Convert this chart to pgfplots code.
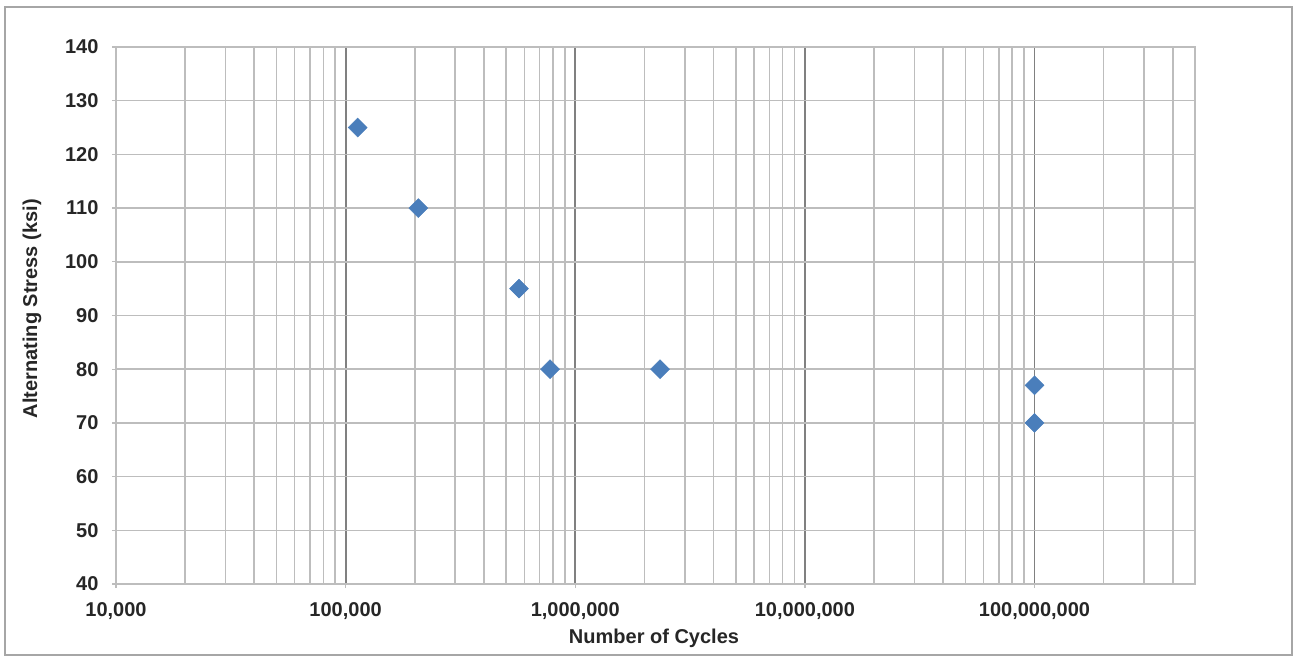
\documentclass[border=0pt]{standalone}
\usepackage{pgfplots}
\pgfplotsset{compat=1.18}
\usepackage{fontspec}
\setmainfont{Liberation Sans}
\definecolor{gridgray}{HTML}{BDBDBD}
\definecolor{majgray}{HTML}{808080}
\definecolor{frame}{HTML}{A6A6A6}
\definecolor{mk}{HTML}{4A7EBB}
\begin{document}
\begin{tikzpicture}[x=1pt,y=1pt]
\useasboundingbox (0,0) rectangle (972.75,493.5);
\draw[frame, line width=1.1pt] (3.75,2.25) rectangle (969,488.25);
\begin{axis}[
  at={(87pt,55.5pt)}, anchor=south west,
  scale only axis, width=809.25pt, height=402.75pt,
  xmode=log, log basis x=10,
  xmin=1e4, xmax=5e8, ymin=40, ymax=140,
  xtick={1e5,1e6,1e7,1e8},
  xticklabels={100{,}000,1{,}000{,}000,10{,}000{,}000,100{,}000{,}000},
  extra x ticks={1e4}, extra x tick labels={10{,}000},
  extra x tick style={grid=none},
  minor xtick={2e4,3e4,4e4,5e4,6e4,7e4,8e4,9e4,
               2e5,3e5,4e5,5e5,6e5,7e5,8e5,9e5,
               2e6,3e6,4e6,5e6,6e6,7e6,8e6,9e6,
               2e7,3e7,4e7,5e7,6e7,7e7,8e7,9e7,
               2e8,3e8,4e8},
  ytick={40,50,...,140},
  yticklabels={40,50,60,70,80,90,100,110,120,130,140},
  xtick pos=bottom, ytick pos=left,
  xmajorgrids, xminorgrids, ymajorgrids,
  major x grid style={majgray, line width=1.4pt},
  minor x grid style={gridgray, line width=1.2pt},
  major y grid style={gridgray, line width=1.2pt},
  axis line style={gridgray, line width=1.2pt},
  tick align=outside, major tick length=3pt, minor tick length=0pt,
  tick style={gridgray, line width=1pt},
  ticklabel style={font=\fontsize{15}{18}\selectfont\bfseries, text=black!85},
  xticklabel style={inner sep=0pt, anchor=north, yshift=-11pt},
  yticklabel style={inner sep=0pt, anchor=east, xshift=-10pt},
  clip=false,
]
\addplot[only marks, mark=square*, mark size=5pt, mark options={rotate=45, fill=mk, draw=mk}]
coordinates {
(112900,125) (207300,110) (569000,95) (777000,80) (2340000,80) (100000000,77) (100000000,70)
};
\end{axis}
\node[font=\fontsize{15}{18}\selectfont\bfseries, text=black!85] at (490.5,15) {Number of Cycles};
\node[font=\fontsize{15}{18}\selectfont\bfseries, text=black!85, rotate=90] at (24,262) {Alternating Stress (ksi)};
\end{tikzpicture}
\end{document}
